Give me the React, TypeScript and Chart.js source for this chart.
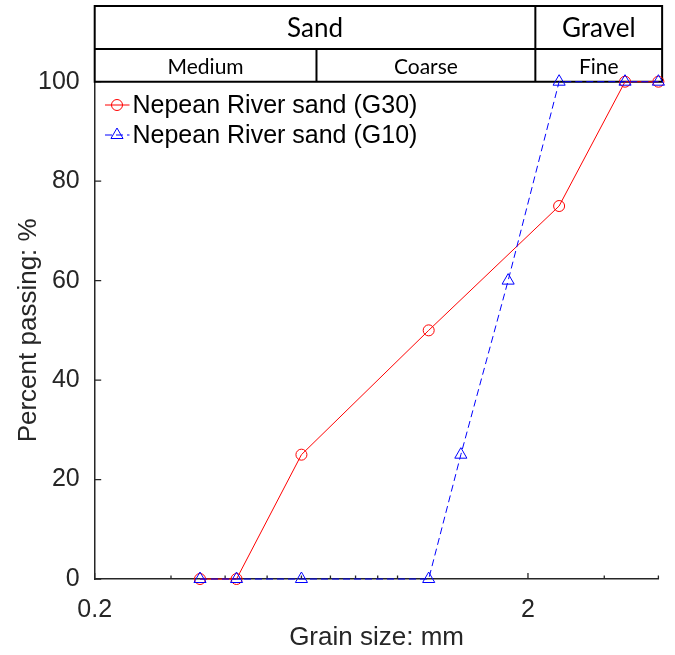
import { useEffect, useRef } from 'react';
import { Chart, registerables } from 'chart.js';

Chart.register(...registerables);

// ---- data ----
const G30_SIZE_MM = [0.35, 0.425, 0.6, 1.18, 2.36, 3.35, 4.0];
const G30_PASSING = [0, 0, 25, 50, 75, 100, 100];
const G10_SIZE_MM = [0.35, 0.425, 0.6, 1.18, 1.4, 1.8, 2.36, 3.35, 4.0];
const G10_PASSING = [0, 0, 0, 0, 25, 60, 100, 100, 100];
const SERIES_LABELS = ['Nepean River sand (G30)', 'Nepean River sand (G10)'];

const X_MIN = 0.2;
const X_MAX = 4;
const X_TICKS = [0.2, 0.3, 0.4, 0.5, 0.6, 0.7, 0.8, 0.9, 1, 2, 3, 4];
const X_LABELED = [0.2, 2];
const Y_TICKS = [0, 20, 40, 60, 80, 100];

const TOP_CLASSES = ['Sand', 'Gravel'];
const TOP_BOUNDS = [0.2, 2.08, 4.08];
const SUB_CLASSES = ['Medium', 'Coarse', 'Fine'];
const SUB_BOUNDS = [0.2, 0.65, 2.08, 4.08];

const X_TITLE = 'Grain size: mm';
const Y_TITLE = 'Percent passing: %';

const AXIS_FONT = '"Liberation Sans", Arial, sans-serif';
const TABLE_FONT = 'Lato, "Open Sans", sans-serif';
const AXIS_COLOR = '#262626';

const decorPlugin = {
  id: 'decor',
  beforeDatasetsDraw(chart: any) {
    const ctx = chart.ctx;
    const ca = chart.chartArea;
    const xs = chart.scales.x;
    const ys = chart.scales.y;
    ctx.save();
    // inward ticks
    ctx.strokeStyle = AXIS_COLOR;
    ctx.lineWidth = 1.3;
    ctx.beginPath();
    Y_TICKS.forEach((v) => {
      const py = ys.getPixelForValue(v);
      ctx.moveTo(ca.left, py);
      ctx.lineTo(ca.left + 6.5, py);
    });
    X_TICKS.forEach((v) => {
      const px = xs.getPixelForValue(v);
      const len = X_LABELED.includes(v) ? 6 : 3.5;
      ctx.moveTo(px, ca.bottom);
      ctx.lineTo(px, ca.bottom - len);
    });
    ctx.stroke();

    // classification table above plot
    const top = 6;
    const mid = 49;
    const bot = ca.top;
    const l = xs.getPixelForValue(TOP_BOUNDS[0]);
    const r = xs.getPixelForValue(TOP_BOUNDS[TOP_BOUNDS.length - 1]);
    ctx.strokeStyle = '#000';
    ctx.lineWidth = 2;
    ctx.beginPath();
    ctx.rect(l, top, r - l, bot - top);
    ctx.moveTo(l, mid);
    ctx.lineTo(r, mid);
    TOP_BOUNDS.slice(1, -1).forEach((b) => {
      const px = xs.getPixelForValue(b);
      ctx.moveTo(px, top);
      ctx.lineTo(px, mid);
    });
    SUB_BOUNDS.slice(1, -1).forEach((b) => {
      const px = xs.getPixelForValue(b);
      ctx.moveTo(px, mid);
      ctx.lineTo(px, bot);
    });
    ctx.stroke();
    ctx.fillStyle = '#000';
    ctx.textAlign = 'center';
    ctx.textBaseline = 'middle';
    ctx.font = `26px ${TABLE_FONT}`;
    TOP_CLASSES.forEach((t, i) => {
      const a = xs.getPixelForValue(TOP_BOUNDS[i]);
      const b = xs.getPixelForValue(TOP_BOUNDS[i + 1]);
      ctx.fillText(t, (a + b) / 2, (top + mid) / 2 + 1);
    });
    ctx.font = `21px ${TABLE_FONT}`;
    SUB_CLASSES.forEach((t, i) => {
      const a = xs.getPixelForValue(SUB_BOUNDS[i]);
      const b = xs.getPixelForValue(SUB_BOUNDS[i + 1]);
      ctx.fillText(t, (a + b) / 2, (mid + bot) / 2 + 2);
    });

    // axis titles
    ctx.fillStyle = AXIS_COLOR;
    ctx.font = `26px ${AXIS_FONT}`;
    ctx.textAlign = 'center';
    ctx.textBaseline = 'alphabetic';
    ctx.fillText(X_TITLE, (ca.left + ca.right) / 2, 645);
    ctx.save();
    ctx.translate(36, (ca.top + ca.bottom) / 2);
    ctx.rotate(-Math.PI / 2);
    ctx.fillText(Y_TITLE, 0, 0);
    ctx.restore();
    ctx.restore();
  },
  afterDatasetsDraw(chart: any) {
    // legend inside plot, top-left
    const ctx = chart.ctx;
    ctx.save();
    const rows = [105, 135];
    chart.data.datasets.forEach((ds: any, i: number) => {
      const y = rows[i];
      ctx.strokeStyle = ds.borderColor;
      ctx.lineWidth = 1;
      ctx.setLineDash(ds.borderDash || []);
      ctx.beginPath();
      ctx.moveTo(105, y);
      ctx.lineTo(129.5, y);
      ctx.stroke();
      ctx.setLineDash([]);
      ctx.beginPath();
      if (ds.pointStyle === 'triangle') {
        const rr = ds.pointRadius;
        for (let k = 0; k < 3; k++) {
          const a = (k * 2 * Math.PI) / 3;
          const px = 117 + Math.sin(a) * rr;
          const py = y - Math.cos(a) * rr;
          if (k === 0) ctx.moveTo(px, py);
          else ctx.lineTo(px, py);
        }
        ctx.closePath();
      } else {
        ctx.arc(117, y, ds.pointRadius, 0, Math.PI * 2);
      }
      ctx.stroke();
      ctx.fillStyle = '#000';
      ctx.font = `25px ${AXIS_FONT}`;
      ctx.textAlign = 'left';
      ctx.textBaseline = 'middle';
      ctx.fillText(ds.label, 132.5, y + 1);
    });
    ctx.restore();
  },
};

export default function App() {
  const canvasRef = useRef<HTMLCanvasElement | null>(null);

  useEffect(() => {
    const canvas = canvasRef.current;
    if (!canvas) return;
    const chart = new Chart(canvas, {
      type: 'line',
      data: {
        datasets: [
          {
            label: SERIES_LABELS[0],
            data: G30_SIZE_MM.map((x, i) => ({ x, y: G30_PASSING[i] })),
            borderColor: '#ff0000',
            backgroundColor: 'rgba(0,0,0,0)',
            borderWidth: 1,
            pointStyle: 'circle',
            pointRadius: 5.5,
            pointBorderWidth: 1,
            pointBackgroundColor: 'rgba(0,0,0,0)',
            pointBorderColor: '#ff0000',
            tension: 0,
            clip: false as any,
            order: 2,
          },
          {
            label: SERIES_LABELS[1],
            data: G10_SIZE_MM.map((x, i) => ({ x, y: G10_PASSING[i] })),
            borderColor: '#0000ff',
            backgroundColor: 'rgba(0,0,0,0)',
            borderWidth: 1,
            borderDash: [7, 4],
            pointStyle: 'triangle',
            pointRadius: 7,
            pointBorderWidth: 1,
            pointBackgroundColor: 'rgba(0,0,0,0)',
            pointBorderColor: '#0000ff',
            tension: 0,
            clip: false as any,
            order: 1,
          },
        ],
      },
      options: {
        responsive: false,
        animation: false,
        events: [],
        layout: { padding: { top: 81.7, right: 16.6, left: 0, bottom: 0 } },
        plugins: {
          legend: { display: false },
          tooltip: { enabled: false },
        },
        scales: {
          x: {
            type: 'logarithmic',
            min: X_MIN,
            max: X_MAX,
            afterBuildTicks: (axis: any) => {
              axis.ticks = X_TICKS.map((v) => ({ value: v }));
            },
            afterFit: (scale: any) => {
              scale.height = 76;
            },
            grid: { display: false },
            border: { display: true, color: AXIS_COLOR, width: 1.5 },
            ticks: {
              autoSkip: false,
              maxRotation: 0,
              minRotation: 0,
              padding: 8,
              color: AXIS_COLOR,
              font: { family: AXIS_FONT, size: 25 },
              callback: (v: any) => (X_LABELED.includes(Number(v)) ? String(v) : ''),
            },
          },
          y: {
            type: 'linear',
            min: 0,
            max: 100,
            afterBuildTicks: (axis: any) => {
              axis.ticks = Y_TICKS.map((v) => ({ value: v }));
            },
            afterFit: (scale: any) => {
              scale.width = 94.7;
            },
            grid: { display: false },
            border: { display: true, color: AXIS_COLOR, width: 1.5 },
            ticks: {
              padding: 7,
              color: AXIS_COLOR,
              font: { family: AXIS_FONT, size: 25 },
            },
          },
        },
      },
      plugins: [decorPlugin],
    });
    return () => chart.destroy();
  }, []);

  return (
    <div style={{ position: 'absolute', left: 0, top: 0, width: 675, height: 655, background: '#fff' }}>
      <canvas ref={canvasRef} width={675} height={655} style={{ display: 'block' }} />
    </div>
  );
}
